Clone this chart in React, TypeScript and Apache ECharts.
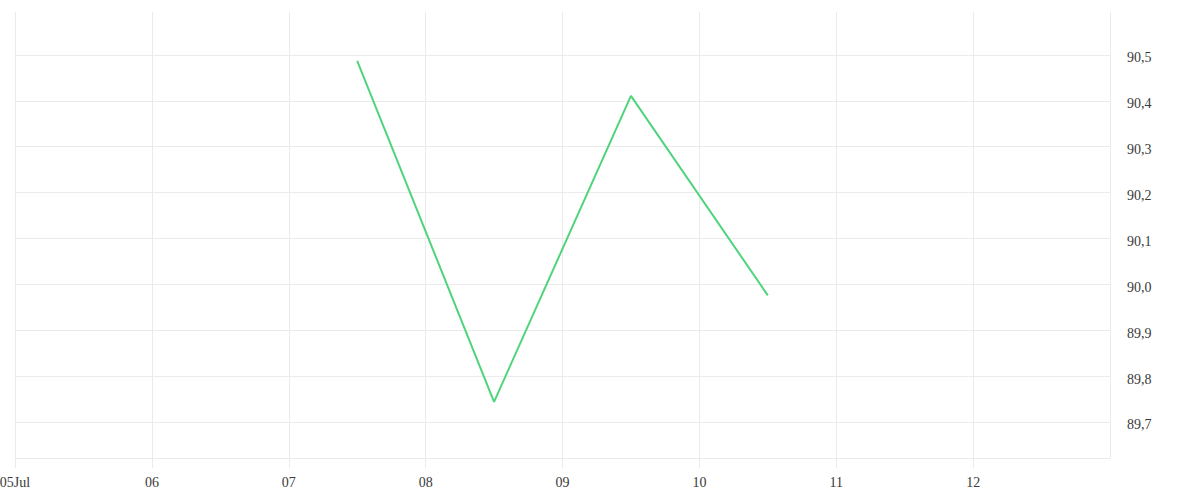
import React, { useEffect, useRef } from "react";
import * as echarts from "echarts";

const DAY = 86400000;
const dates = ["2024-07-07T12:00:00Z", "2024-07-08T12:00:00Z", "2024-07-09T12:00:00Z", "2024-07-10T12:00:00Z"];
const values = [90.487, 89.744, 90.411, 89.976];
const xMin = Date.UTC(2024, 6, 5);
const xMax = Date.UTC(2024, 6, 13);
const yMin = 89.6215;
const yMax = 90.5937;

export default function App() {
  const ref = useRef<HTMLDivElement>(null);
  useEffect(() => {
    document.body.style.margin = "0";
    const chart = echarts.init(ref.current!, undefined, { renderer: "svg" });
    const pad = (n: number) => (n < 10 ? "0" + n : "" + n);
    const font = "'Liberation Serif', serif";
    chart.setOption({
      animation: false,
      grid: { left: 15, right: 90, top: 12, bottom: 42, containLabel: false, outerBoundsMode: "none" },
      xAxis: {
        type: "value",
        min: xMin,
        max: xMax,
        interval: DAY,
        axisLine: { show: true, lineStyle: { color: "#ebebeb", width: 1 } },
        axisTick: { show: true, length: 10, lineStyle: { color: "#ebebeb" } },
        splitLine: { show: true, lineStyle: { color: "#ebebeb" } },
        axisLabel: {
          showMaxLabel: false,
          margin: 17,
          color: "#3a3a3a",
          fontFamily: font,
          fontSize: 14,
          formatter: (v: number) => {
            const d = new Date(v);
            const s = pad(d.getUTCDate());
            return v === xMin ? s + "Jul" : s;
          },
        },
      },
      yAxis: {
        type: "value",
        position: "right",
        min: yMin,
        max: yMax,
        splitNumber: 9,
        axisLine: { show: false },
        axisTick: { show: false },
        splitLine: { show: true, showMinLine: false, showMaxLine: false, lineStyle: { color: "#ebebeb" } },
        axisLabel: {
          showMinLabel: false,
          showMaxLabel: false,
          margin: 17,
          color: "#3a3a3a",
          fontFamily: font,
          fontSize: 14,
          verticalAlign: "top",
          padding: [-4, 0, 0, 0],
          formatter: (v: number) => v.toFixed(1).replace(".", ","),
        },
      },
      series: [
        {
          type: "line",
          data: dates.map((d, i) => [Date.parse(d), values[i]]),
          showSymbol: false,
          lineStyle: { color: "#4fd47c", width: 2 },
          itemStyle: { color: "#4fd47c" },
        },
      ],
    });
    return () => chart.dispose();
  }, []);
  return <div ref={ref} style={{ position: "absolute", left: 0, top: 0, width: 1200, height: 500 }} />;
}
